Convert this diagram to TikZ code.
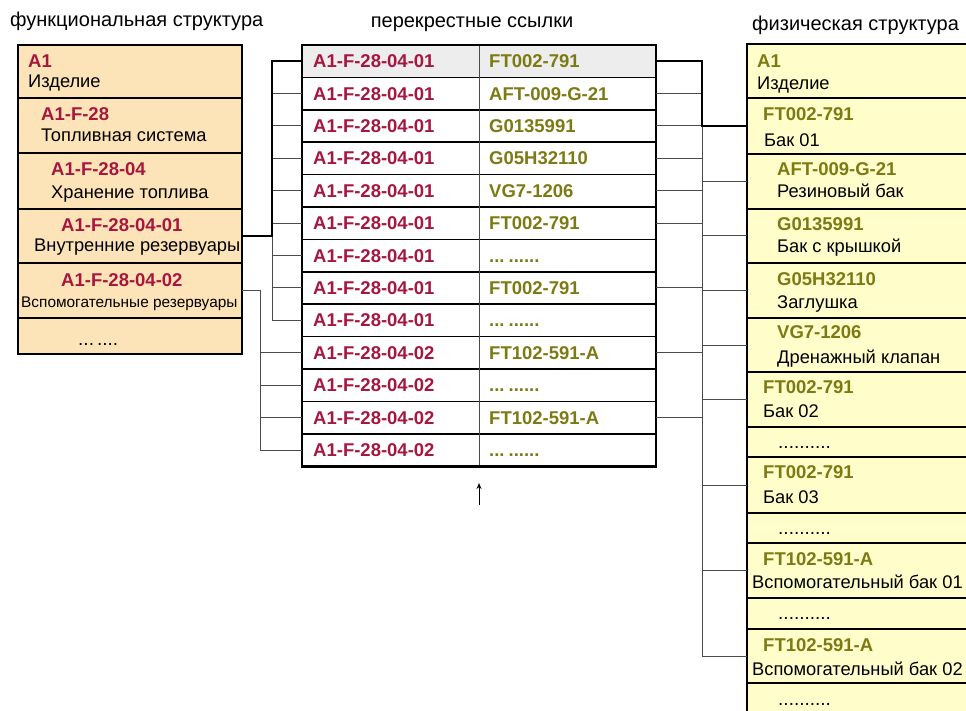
\documentclass[tikz,border=0pt]{standalone}
\usepackage{fontspec}
\setmainfont{Liberation Sans}
\usetikzlibrary{arrows.meta,calc}
\definecolor{codered}{HTML}{A5173F}
\definecolor{codeolive}{HTML}{7D7A14}
\definecolor{fillL}{HTML}{FDE4B8}
\definecolor{fillR}{HTML}{FFFECB}
\definecolor{fillG}{HTML}{EDEDED}
\definecolor{linegray}{HTML}{4A4A4A}
\newcommand\tabdots{...\hspace{4pt}......}
\begin{document}
\begin{tikzpicture}[x=1pt,y=-1pt,
  lrow/.style={draw=black, line width=2.4pt, fill=fillL, anchor=north west, minimum width=224pt, inner sep=0pt, outer sep=0pt},
  rrow/.style={draw=black, line width=2.4pt, fill=fillR, anchor=north west, minimum width=240pt, inner sep=0pt, outer sep=0pt},
  cell/.style={anchor=north west, minimum width=177pt, minimum height=32.4pt, inner sep=0pt, outer sep=0pt},
  codeR/.style={anchor=base west, inner sep=0pt, text=codered, font=\fontsize{18.5}{21}\selectfont\bfseries},
  codeO/.style={anchor=base west, inner sep=0pt, text=codeolive, font=\fontsize{18.5}{21}\selectfont\bfseries},
  nmtext/.style={anchor=base west, inner sep=0pt, text=black, font=\fontsize{18.3}{21}\selectfont},
  smallnm/.style={anchor=base west, inner sep=0pt, text=black, font=\fontsize{15.4}{18}\selectfont},
  dotstext/.style={anchor=base west, inner sep=0pt, text=black, font=\fontsize{19}{21}\selectfont},
  ttl/.style={inner sep=0pt, text=black, font=\fontsize{20}{23}\selectfont},
  thickc/.style={draw=black, line width=2.2pt},
  thinc/.style={draw=linegray, line width=1pt},
]
\useasboundingbox (0,0) rectangle (966,711);
\clip (0,0) rectangle (966,711);

% titles
\node[ttl, anchor=base west] (t1) at (10,27) {функциональная структура};
\node[ttl, anchor=base] (t2) at (472,28) {перекрестные ссылки};
\node[ttl, anchor=base west] (t3) at (752,31) {физическая структура};

% left panel
\node[lrow, minimum height=53pt] (L1) at (18,45) {};
\node[lrow, minimum height=55pt] (L2) at (18,98) {};
\node[lrow, minimum height=56pt] (L3) at (18,153) {};
\node[lrow, minimum height=54pt] (L4) at (18,209) {};
\node[lrow, minimum height=55pt] (L5) at (18,263) {};
\node[lrow, minimum height=36pt] (L6) at (18,318) {};
\node[codeR] (L1c) at (28,68) {A1};
\node[nmtext] (L1n) at (28,88) {Изделие};
\node[codeR] (L2c) at (41,121) {A1-F-28};
\node[nmtext] (L2n) at (41,142) {Топливная система};
\node[codeR] (L3c) at (51,176) {A1-F-28-04};
\node[nmtext] (L3n) at (51,199) {Хранение топлива};
\node[codeR] (L4c) at (61,232) {A1-F-28-04-01};
\node[nmtext] (L4n) at (34,252) {Внутренние резервуары};
\node[codeR] (L5c) at (61,287) {A1-F-28-04-02};
\node[smallnm] (L5n) at (21,307) {Вспомогательные резервуары};
\node[dotstext] (L6d) at (78,345) {...\hspace{3pt}....};

% cross reference table
\foreach \i in {1,...,13}{
  \pgfmathsetmacro\ty{45+(\i-1)*32.4}
  \node[cell] (TL\i) at (302,\ty) {};
  \node[cell] (TR\i) at (479,\ty) {};
}
\fill[fillG] (TL1.north west) rectangle (TR1.south east);
\foreach \i/\a/\b in {1/A1-F-28-04-01/FT002-791,2/A1-F-28-04-01/AFT-009-G-21,3/A1-F-28-04-01/G0135991,
  4/A1-F-28-04-01/G05H32110,5/A1-F-28-04-01/VG7-1206,6/A1-F-28-04-01/FT002-791,7/A1-F-28-04-01/\tabdots,
  8/A1-F-28-04-01/FT002-791,9/A1-F-28-04-01/\tabdots,10/A1-F-28-04-02/FT102-591-A,11/A1-F-28-04-02/\tabdots,
  12/A1-F-28-04-02/FT102-591-A,13/A1-F-28-04-02/\tabdots}{
  \node[codeR] (TLt\i) at ($(TL\i.west)+(11,6.5)$) {\a};
  \node[codeO] (TRt\i) at ($(TR\i.west)+(10,6.5)$) {\b};
}
\foreach \i in {1,...,12}{
  \draw[black, line width=1.7pt] (TL\i.south west) -- (TR\i.south east);
}
\draw[linegray, line width=1pt] (TL1.north east) -- (TL13.south east);
\draw[black, line width=2.6pt] (TL1.north west) rectangle (TR13.south east);

% right panel
\node[rrow, minimum height=54pt] (R1) at (747,44) {};
\node[rrow, minimum height=56pt] (R2) at (747,98) {};
\node[rrow, minimum height=55pt] (R3) at (747,154) {};
\node[rrow, minimum height=54pt] (R4) at (747,209) {};
\node[rrow, minimum height=55pt] (R5) at (747,263) {};
\node[rrow, minimum height=54pt] (R6) at (747,318) {};
\node[rrow, minimum height=55pt] (R7) at (747,372) {};
\node[rrow, minimum height=30pt] (R8) at (747,427) {};
\node[rrow, minimum height=56pt] (R9) at (747,457) {};
\node[rrow, minimum height=30pt] (R10) at (747,513) {};
\node[rrow, minimum height=55pt] (R11) at (747,543) {};
\node[rrow, minimum height=31pt] (R12) at (747,598) {};
\node[rrow, minimum height=54pt] (R13) at (747,629) {};
\node[rrow, minimum height=40pt] (R14) at (747,683) {};
\node[codeO] (R1c) at (757,68) {A1};
\node[nmtext] (R1n) at (757,90) {Изделие};
\node[codeO] (R2c) at (763,121) {FT002-791};
\node[nmtext] (R2n) at (764,147) {Бак 01};
\node[codeO] (R3c) at (777,176) {AFT-009-G-21};
\node[nmtext] (R3n) at (777,198) {Резиновый бак};
\node[codeO] (R4c) at (777,231) {G0135991};
\node[nmtext] (R4n) at (777,253) {Бак с крышкой};
\node[codeO] (R5c) at (777,286) {G05H32110};
\node[nmtext] (R5n) at (777,308) {Заглушка};
\node[codeO] (R6c) at (777,338) {VG7-1206};
\node[nmtext] (R6n) at (777,363) {Дренажный клапан};
\node[codeO] (R7c) at (763,393) {FT002-791};
\node[nmtext] (R7n) at (763,417) {Бак 02};
\node[dotstext] (R8d) at (778,448) {..........};
\node[codeO] (R9c) at (763,478) {FT002-791};
\node[nmtext] (R9n) at (763,503) {Бак 03};
\node[dotstext] (R10d) at (778,534) {..........};
\node[codeO] (R11c) at (763,565) {FT102-591-A};
\node[nmtext] (R11n) at (752,588) {Вспомогательный бак 01};
\node[dotstext] (R12d) at (778,619) {..........};
\node[codeO] (R13c) at (763,651) {FT102-591-A};
\node[nmtext] (R13n) at (752,675) {Вспомогательный бак 02};
\node[dotstext] (R14d) at (778,705) {..........};

% buses
\coordinate (busA) at (272,0);
\coordinate (busB) at (260,0);
\coordinate (busC) at (702,0);

% left connectors, group 04-01
\foreach \i in {2,...,9}{
  \draw[thinc] (TL\i.west) -- (TL\i.west -| busA);
}
\draw[thinc] (L4.east -| busA) -- (TL9.west -| busA);
\draw[thickc] (L4.east) -- (L4.east -| busA) -- (TL1.west -| busA) -- (TL1.west);

% left connectors, group 04-02
\foreach \i in {10,...,13}{
  \draw[thinc] (TL\i.west) -- (TL\i.west -| busB);
}
\draw[thinc] (L5.east) -- (L5.east -| busB) -- (TL13.west -| busB);

% right connectors
\foreach \i in {2,3,4,5,6,8,10,12}{
  \draw[thinc] (TR\i.east) -- (TR\i.east -| busC);
}
\foreach \i in {3,4,5,6,7,9,11,13}{
  \draw[thinc] (R\i.west) -- (R\i.west -| busC);
}
\draw[thinc] (R2.west -| busC) -- (R13.west -| busC);
\draw[thickc] (TR1.east) -- (TR1.east -| busC) -- (R2.west -| busC) -- (R2.west);

% arrow
\coordinate (arrS) at (479,505);
\coordinate (arrE) at (479,483);
\draw[black, line width=1pt, -{Stealth[length=6pt,width=5pt]}] (arrS) -- (arrE);
\end{tikzpicture}
\end{document}
